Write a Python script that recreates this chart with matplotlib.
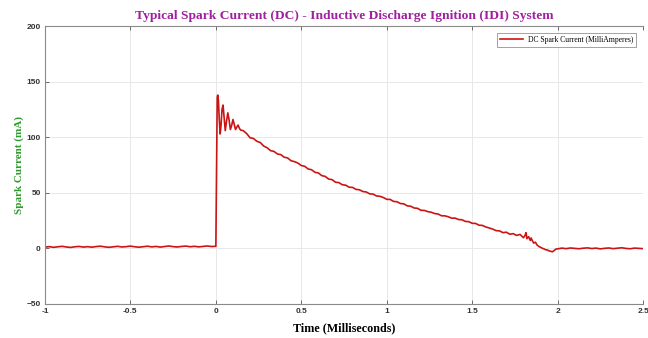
import numpy as np
import matplotlib
matplotlib.use("Agg")
import matplotlib.pyplot as plt

# --- spark current record (time in ms, current in mA) ---
# quiescent level before the coil discharges
pre_time = [round(-1.0 + 0.025 * i, 3) for i in range(41)]
pre_current = [1.2, 1.6, 1.0, 1.4, 1.9, 1.3, 0.9, 1.5, 1.8, 1.2,
               1.6, 1.1, 1.7, 2.0, 1.4, 1.0, 1.5, 1.9, 1.3, 1.6,
               2.1, 1.5, 1.1, 1.6, 2.0, 1.4, 1.8, 1.2, 1.7, 2.2,
               1.6, 1.3, 1.8, 2.1, 1.5, 1.9, 1.4, 1.8, 2.2, 1.7, 1.9]

# breakdown and ringing at the start of the arc
ring_time = [0.004, 0.008, 0.011, 0.015, 0.020, 0.025, 0.030, 0.036, 0.042,
             0.048, 0.055, 0.062, 0.070, 0.077, 0.085, 0.093, 0.100, 0.107,
             0.115, 0.122, 0.130, 0.138, 0.145]
ring_current = [70.0, 136.0, 138.0, 133.0, 116.0, 103.0, 110.0, 125.0, 129.0,
                118.0, 106.0, 114.0, 122.0, 116.0, 107.0, 111.0, 116.0, 112.0,
                107.0, 109.0, 111.0, 108.0, 106.5]

# glow-discharge decay
decay_time = [round(0.16 + 0.02 * i, 2) for i in range(82)]
decay_current = [106.0, 103.4, 99.6, 98.9, 96.4, 95.3, 92.1, 90.6, 88.0, 87.3,
                 85.0, 84.4, 82.1, 81.4, 78.9, 78.1, 76.8, 74.6, 73.9, 71.5,
                 70.8, 68.5, 67.9, 65.5, 64.8, 62.4, 61.9, 59.6, 59.2, 57.3,
                 56.9, 55.1, 54.9, 53.1, 52.8, 51.2, 50.8, 49.1, 48.9, 47.2,
                 46.9, 45.8, 44.2, 44.1, 42.3, 42.0, 40.4, 40.1, 38.3, 38.0,
                 36.4, 36.1, 34.3, 34.2, 33.1, 32.6, 31.4, 31.0, 29.4, 29.3,
                 28.5, 27.2, 27.3, 26.0, 25.8, 24.3, 24.1, 22.6, 22.5, 20.9,
                 20.7, 19.3, 18.4, 17.4, 16.0, 15.8, 14.2, 14.6, 12.8, 13.3,
                 11.7, 12.6]

# extinction of the spark and return to zero
tail_time = [1.80, 1.81, 1.815, 1.82, 1.83, 1.84, 1.845, 1.85, 1.86, 1.87,
             1.88, 1.89, 1.90, 1.91, 1.92, 1.93, 1.94, 1.95, 1.96, 1.97,
             1.98, 1.99, 2.00]
tail_current = [9.6, 12.0, 14.2, 8.8, 10.6, 7.2, 9.4, 7.6, 4.8, 5.6,
                3.0, 1.8, 1.0, 0.2, -0.4, -1.2, -1.4, -2.2, -2.6, -3.0,
                -1.8, -0.6, -0.4]

post_time = [round(2.025 + 0.025 * i, 3) for i in range(20)]
post_current = [0.3, -0.2, 0.4, 0.1, -0.3, 0.2, 0.5, -0.1, 0.3, -0.4,
                0.1, 0.4, -0.2, 0.2, 0.6, 0.0, -0.3, 0.3, 0.1, -0.2]

time_ms = np.array(pre_time + ring_time + decay_time + tail_time + post_time)
current_ma = np.array(pre_current + ring_current + decay_current + tail_current + post_current)

x_ticks = [-1, -0.5, 0, 0.5, 1, 1.5, 2, 2.5]
x_tick_labels = ["-1", "-0.5", "0", "0.5", "1", "1.5", "2", "2.5"]
y_ticks = [-50, 0, 50, 100, 150, 200]

title_text = "Typical Spark Current (DC) - Inductive Discharge Ignition (IDI) System"
series_label = "DC Spark Current (MilliAmperes)"

serif = ["Liberation Serif", "DejaVu Serif"]
sans = ["Liberation Sans", "DejaVu Sans"]

fig = plt.figure(figsize=(6.48, 3.38), dpi=100)
ax = fig.add_axes([0.0694, 0.1006, 0.923, 0.822])

ax.plot(time_ms, current_ma, color="#cc1414", linewidth=1.2, label=series_label)

ax.set_xlim(-1, 2.5)
ax.set_ylim(-50, 200)
ax.set_xticks(x_ticks)
ax.set_xticklabels(x_tick_labels)
ax.set_yticks(y_ticks)

ax.grid(True, color="#e8e8e8", linewidth=0.7)
ax.set_axisbelow(True)

for side in ("left", "bottom", "top"):
    ax.spines[side].set_color("#8a8a8a")
    ax.spines[side].set_linewidth(0.8)
ax.spines["right"].set_visible(False)

ax.tick_params(direction="in", length=3, width=0.6, color="#555555",
               labelsize=6, labelcolor="#333333", top=True, right=False, pad=3)
for lbl in ax.get_xticklabels() + ax.get_yticklabels():
    lbl.set_family(sans)
    lbl.set_fontweight("bold")

ax.set_title(title_text, fontsize=9.7, fontweight="bold", color="#a020a0",
             family=serif, pad=5)
ax.set_xlabel("Time (Milliseconds)", fontsize=8.7, fontweight="bold",
              color="black", family=serif, labelpad=5)
ax.set_ylabel("Spark Current (mA)", fontsize=8, fontweight="bold",
              color="#2e9a2e", family=serif, labelpad=2)

leg = ax.legend(loc="upper right", bbox_to_anchor=(0.995, 0.99),
                prop={"family": serif, "size": 5.5}, frameon=True,
                fancybox=False, handlelength=3, borderpad=0.4,
                handletextpad=0.6)
leg.get_frame().set_edgecolor("#777777")
leg.get_frame().set_linewidth(0.6)

fig.savefig("out.png", dpi=100)
